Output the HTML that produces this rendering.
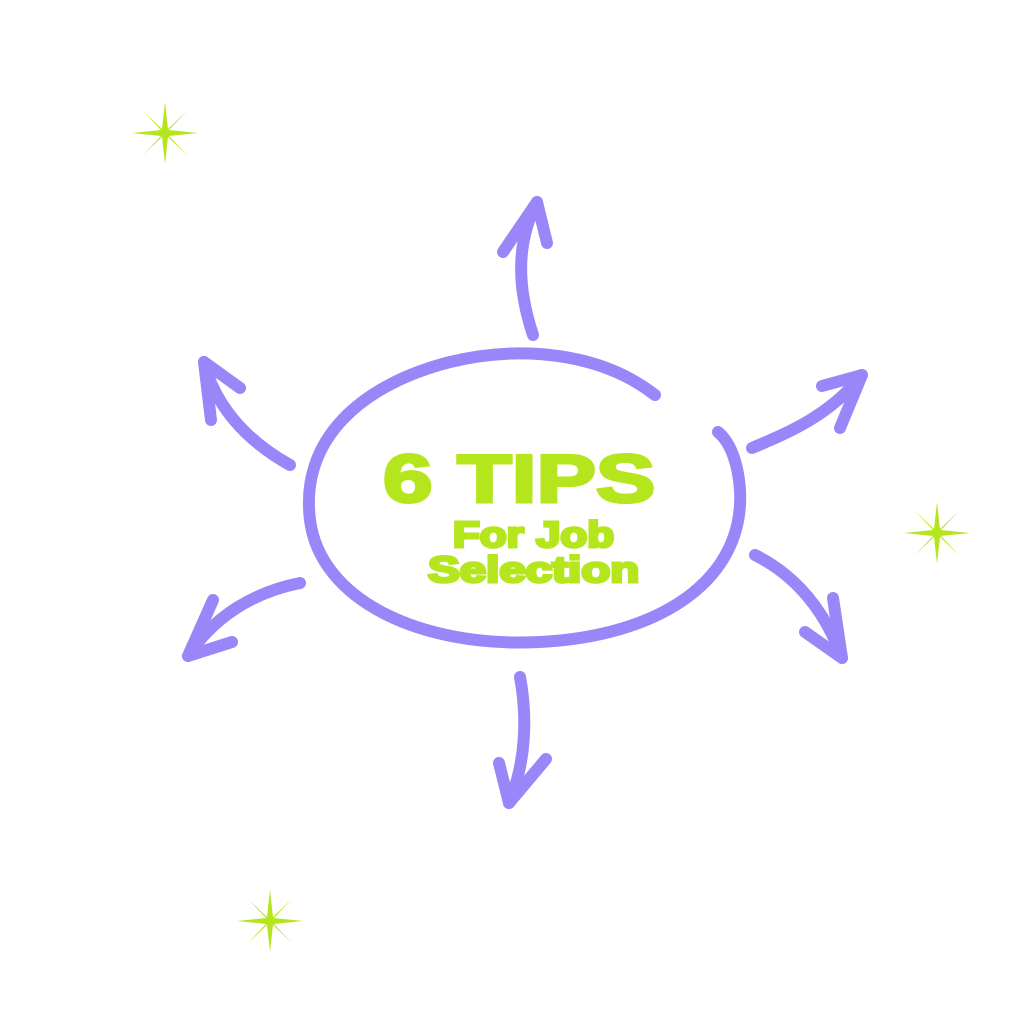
<!DOCTYPE html>
<html><head><meta charset="utf-8"><style>
html,body{margin:0;padding:0;background:#fff;}
body{width:1024px;height:1024px;overflow:hidden;position:relative;}
svg{position:absolute;left:0;top:0;}
.t{position:absolute;font-family:"Liberation Sans",sans-serif;font-weight:bold;color:#b5e61d;-webkit-text-stroke:3px #b5e61d;white-space:nowrap;transform-origin:0 0;line-height:1;}
</style></head><body>
<svg width="1024" height="1024" viewBox="0 0 1024 1024">
<defs>
<g id="star"><polygon points="0,-31 3,-4 22,-22 4,-3 33,0 4,3 22,22 3,4 0,31 -3,4 -22,22 -4,3 -33,0 -4,-3 -22,-22 -3,-4" fill="#b5e61d"/></g>
</defs>
<use href="#star" x="165" y="133"/>
<use href="#star" x="937" y="533"/>
<use href="#star" x="270" y="921"/>
<g fill="none" stroke="#9a86f8" stroke-linecap="round" stroke-linejoin="round">
<path d="M655,395 C600,352 520,345 450,362 C360,385 300,440 310,520 C320,600 420,648 540,642 C660,636 745,580 740,490 C738,462 730,442 718,432" stroke-width="12"/>
<g stroke-width="12">
<path d="M533,335 C518,290 515,245 537,202"/>
<path d="M503,252 L537,202 L547,243"/>
<path d="M290,465 C245,440 215,405 204,362"/>
<path d="M240,388 L204,362 L211,420"/>
<path d="M752,448 C790,432 830,415 862,375"/>
<path d="M822,386 L862,375 L840,428"/>
<path d="M300,583 C255,592 215,615 188,656"/>
<path d="M213,600 L188,656 L232,642"/>
<path d="M755,555 C795,575 825,610 842,658"/>
<path d="M833,598 L842,658 L805,632"/>
<path d="M520,677 C528,720 525,765 509,803"/>
<path d="M499,763 L509,803 L546,759"/>
</g>
</g>
</svg>
<div class="t" style="left:383px;top:445px;font-size:68px;transform:scaleX(1.31);">6 TIPS</div>
<div class="t" style="left:453px;top:517px;font-size:36px;transform:scaleX(1.22);">For Job</div>
<div class="t" style="left:428px;top:552px;font-size:36px;transform:scaleX(1.32);">Selection</div>
</body></html>
